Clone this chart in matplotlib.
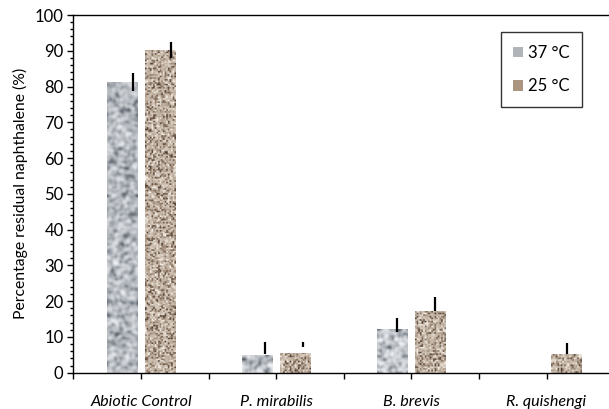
import numpy as np
import matplotlib
matplotlib.use("Agg")
import matplotlib.pyplot as plt
from matplotlib.patches import Patch
from matplotlib.ticker import MultipleLocator

plt.rcParams['font.family'] = ['Lato', 'DejaVu Sans']

# data
categorias = ['Abiotic Control', 'P. mirabilis', 'B. brevis', 'R. quishengi']
series = ['37 °C', '25 °C']
valores_37 = [81.4, 4.9, 12.2, 0.0]
valores_25 = [90.2, 5.6, 17.3, 5.1]
# error bar line ends (low, high) as drawn in the picture
err_37_lo = [78.8, 5.1, 11.3, None]
err_37_hi = [83.9, 8.7, 15.2, None]
err_25_lo = [88.1, 7.3, 17.2, 5.1]
err_25_hi = [92.5, 8.7, 21.1, 8.4]

ancho = 0.225
desp = 0.142

fig = plt.figure(figsize=(6.09, 4.09), dpi=100)
ax = fig.add_axes([0.1204, 0.0888, 0.888, 0.8745])
ax.set_xlim(-0.5, 3.5)
ax.set_ylim(0, 100)
ax.set_autoscale_on(False)

x = np.arange(len(categorias))
rng = np.random.default_rng(3)  # only for the stone-like bar texture


def suavizar(n, pasos):
    for _ in range(pasos):
        n = (n + np.roll(n, 1, 0) + np.roll(n, -1, 0) + np.roll(n, 1, 1) + np.roll(n, -1, 1)) / 5
    n = (n - n.min()) / (n.max() - n.min())
    return n


def textura(patch, colores, celda, pasos, interp):
    # fill a bar with a granite-like texture clipped to the bar
    x0, y0 = patch.get_x(), patch.get_y()
    w, h = patch.get_width(), patch.get_height()
    if h <= 0:
        return
    nx = max(3, int(w * 135.3 / celda))
    ny = max(3, int(h * 3.577 / celda))
    n = suavizar(rng.random((ny, nx)), pasos)
    cols = np.array(colores) / 255
    pos = np.linspace(0, 1, len(cols))
    img = np.stack([np.interp(n, pos, cols[:, k]) for k in range(3)], axis=-1)
    im = ax.imshow(img, extent=(x0, x0 + w, y0, y0 + h), aspect='auto',
                   interpolation=interp, zorder=2)
    im.set_clip_path(patch)


b37 = ax.bar(x - desp, valores_37, ancho, color='#bcc0c4', zorder=1)
b25 = ax.bar(x + desp, valores_25, ancho, color='#b5a290', zorder=1)
for p in b37:
    textura(p, [(92, 98, 106), (168, 173, 180), (212, 215, 219), (242, 244, 246)],
            1.2, 3, 'bilinear')
for p in b25:
    textura(p, [(80, 60, 46), (170, 150, 132), (196, 182, 167), (206, 193, 179),
                (246, 240, 232)], 1.6, 0, 'antialiased')

# error bars (slightly misregistered to the right, as in the picture)
for xs, lo, hi in [(x - desp, err_37_lo, err_37_hi), (x + desp, err_25_lo, err_25_hi)]:
    for xi, l, h in zip(xs, lo, hi):
        if l is None:
            continue
        ax.vlines(xi * 0.976 + 0.083, l, h, color='black', lw=1.6, zorder=3)

ax.set_xticks(x)
ax.set_xticklabels(categorias, style='italic', fontsize=11.6)
ax.xaxis.set_minor_locator(MultipleLocator(0.5))
ax.yaxis.set_major_locator(MultipleLocator(10))
ax.yaxis.set_minor_locator(MultipleLocator(2))
ax.tick_params(axis='x', which='both', length=4, width=1, pad=12)
ax.tick_params(axis='y', which='major', length=4, width=1, labelsize=12, pad=3)
ax.tick_params(axis='y', which='minor', length=2.2, width=1)
ax.set_ylabel('Percentage residual naphthalene (%)', fontsize=11.3, labelpad=5)

ax.spines['right'].set_visible(False)
for s in ['left', 'bottom', 'top']:
    ax.spines[s].set_linewidth(1)

handles = [Patch(facecolor='#b0b4b8', edgecolor='none'),
           Patch(facecolor='#ab9580', edgecolor='none')]
leg = ax.legend(handles, series, loc='upper left', bbox_to_anchor=(0.79, 0.952),
                fontsize=12, frameon=True, fancybox=False, handlelength=0.6,
                handleheight=0.6, handletextpad=0.3, labelspacing=1.05,
                borderpad=0.75, borderaxespad=0)
leg.get_frame().set_edgecolor('black')
leg.get_frame().set_linewidth(1)

fig.savefig('out.png', dpi=100)
